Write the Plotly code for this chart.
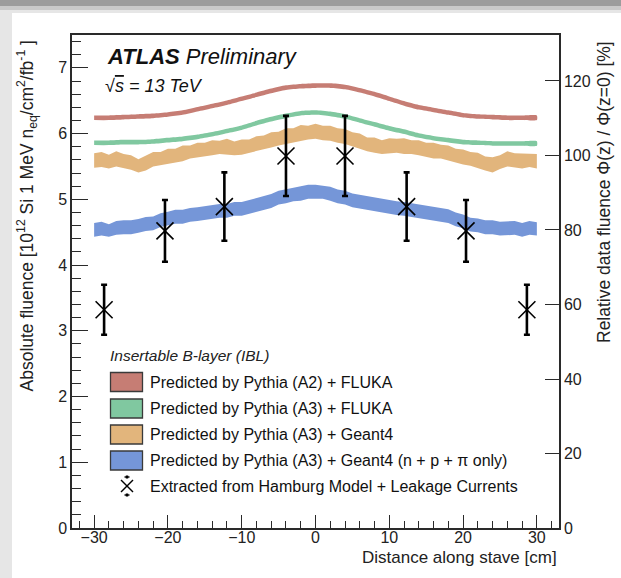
import plotly.graph_objects as go

# ---------------- data ----------------
z_smooth = list(range(-30, 31, 2))
red_a2_fluka = [6.24, 6.24, 6.25, 6.26, 6.27, 6.29, 6.32, 6.37, 6.42, 6.47, 6.53,
                6.59, 6.65, 6.70, 6.72, 6.73, 6.73, 6.71, 6.66, 6.60, 6.53, 6.46,
                6.40, 6.36, 6.32, 6.28, 6.26, 6.25, 6.24, 6.24, 6.24]
green_a3_fluka = [5.86, 5.86, 5.87, 5.87, 5.88, 5.90, 5.92, 5.95, 5.99, 6.04, 6.09,
                  6.16, 6.22, 6.27, 6.31, 6.32, 6.30, 6.26, 6.20, 6.14, 6.08, 6.03,
                  5.97, 5.93, 5.90, 5.87, 5.86, 5.85, 5.85, 5.85, 5.85]
red_halfwidth = 0.035
green_halfwidth = 0.035

z_fine = list(range(-30, 31))
orange_upper = [5.70, 5.72, 5.68, 5.73, 5.69, 5.67, 5.61, 5.66, 5.72, 5.72,
                5.77, 5.77, 5.82, 5.82, 5.86, 5.86, 5.90, 5.89, 5.92, 5.88,
                5.91, 5.91, 5.96, 5.97, 6.02, 6.03, 6.08, 6.08, 6.13, 6.12,
                6.15, 6.12, 6.12, 6.08, 6.07, 6.02, 6.00, 5.94, 5.94, 5.90,
                5.93, 5.92, 5.93, 5.90, 5.90, 5.86, 5.86, 5.83, 5.82, 5.77,
                5.76, 5.72, 5.71, 5.65, 5.64, 5.67, 5.73, 5.70, 5.70, 5.70, 5.69]
orange_lower = [5.48, 5.49, 5.47, 5.50, 5.47, 5.45, 5.41, 5.44, 5.50, 5.52,
                5.53, 5.56, 5.58, 5.62, 5.63, 5.65, 5.67, 5.69, 5.68, 5.67,
                5.68, 5.70, 5.73, 5.76, 5.79, 5.82, 5.85, 5.87, 5.89, 5.91,
                5.92, 5.90, 5.89, 5.86, 5.84, 5.81, 5.77, 5.73, 5.71, 5.69,
                5.70, 5.71, 5.69, 5.69, 5.67, 5.65, 5.62, 5.62, 5.59, 5.56,
                5.53, 5.51, 5.48, 5.44, 5.41, 5.46, 5.50, 5.49, 5.47, 5.49, 5.47]
blue_upper = [4.64, 4.66, 4.62, 4.67, 4.68, 4.68, 4.70, 4.73, 4.74, 4.79,
              4.81, 4.84, 4.84, 4.87, 4.88, 4.90, 4.91, 4.93, 4.93, 4.96,
              4.96, 4.99, 5.01, 5.05, 5.08, 5.13, 5.15, 5.18, 5.19, 5.22,
              5.22, 5.21, 5.19, 5.15, 5.13, 5.09, 5.07, 5.04, 5.03, 5.00,
              4.99, 4.97, 4.96, 4.94, 4.93, 4.90, 4.89, 4.87, 4.85, 4.80,
              4.77, 4.72, 4.71, 4.68, 4.68, 4.66, 4.66, 4.67, 4.64, 4.67, 4.65]
blue_lower = [4.43, 4.45, 4.43, 4.46, 4.47, 4.47, 4.49, 4.52, 4.53, 4.58,
              4.60, 4.63, 4.63, 4.66, 4.67, 4.69, 4.70, 4.72, 4.72, 4.75,
              4.75, 4.78, 4.80, 4.84, 4.87, 4.92, 4.94, 4.97, 4.98, 5.01,
              5.01, 5.01, 4.98, 4.94, 4.92, 4.88, 4.86, 4.83, 4.82, 4.79,
              4.78, 4.76, 4.75, 4.73, 4.72, 4.69, 4.68, 4.66, 4.64, 4.59,
              4.56, 4.51, 4.50, 4.47, 4.47, 4.45, 4.45, 4.46, 4.43, 4.46, 4.45]

z_data = [-28.65, -20.4, -12.35, -4.0, 4.0, 12.35, 20.4, 28.65]
fluence_data = [3.32, 4.52, 4.89, 5.66, 5.66, 4.89, 4.52, 3.32]
fluence_err = [0.38, 0.47, 0.52, 0.61, 0.61, 0.52, 0.47, 0.38]
PHI_Z0 = 5.667  # data fluence at z = 0 (100 %)

legend_labels = [
    "Predicted by Pythia (A2) + FLUKA",
    "Predicted by Pythia (A3) + FLUKA",
    "Predicted by Pythia (A3) + Geant4",
    "Predicted by Pythia (A3) + Geant4 (n + p + \u03c0 only)",
    "Extracted from Hamburg Model + Leakage Currents",
]

# ---------------- style ----------------
W, H = 621, 578
ML, MR, MT, MB = 72, 62, 35, 50
PW, PH = W - ML - MR, H - MT - MB
FONT = "Liberation Sans, Arial, Helvetica, sans-serif"
AX = "#2a2a2a"
C_RED = "#c67d74"
C_GREEN = "#80c8a0"
C_ORANGE = "#e2b57c"
C_BLUE = "#7596d8"


def px_x(px):
    return (px - ML) / PW


def px_y(py):
    return (H - MB - py) / PH


def band(x, up, lo, color, shape="linear"):
    return go.Scatter(x=list(x) + list(x)[::-1], y=list(up) + list(lo)[::-1], fill="toself",
                      fillcolor=color, line=dict(width=0, shape=shape, smoothing=0.6),
                      mode="lines", hoverinfo="skip", showlegend=False)


fig = go.Figure()
fig.add_trace(band(z_smooth, [v + red_halfwidth for v in red_a2_fluka],
                   [v - red_halfwidth for v in red_a2_fluka], C_RED, "spline"))
fig.add_trace(band(z_smooth, [v + green_halfwidth for v in green_a3_fluka],
                   [v - green_halfwidth for v in green_a3_fluka], C_GREEN, "spline"))
fig.add_trace(band(z_fine, orange_upper, orange_lower, C_ORANGE))
fig.add_trace(band(z_fine, blue_upper, blue_lower, C_BLUE))
fig.add_trace(go.Scatter(
    x=z_data, y=fluence_data, mode="markers",
    marker=dict(symbol="x-thin-open", size=17, color="black",
                line=dict(width=1.6, color="black")),
    error_y=dict(type="data", array=fluence_err, thickness=2.6, width=3, color="black"),
    showlegend=False))
# relative scale (right axis): same data in % of the z=0 fluence, drawn invisibly
fig.add_trace(go.Scatter(
    x=z_data, y=[v / PHI_Z0 * 100 for v in fluence_data], yaxis="y2", mode="markers",
    marker=dict(opacity=0), hoverinfo="skip", showlegend=False))

shapes = []
# window-like grey border
shapes.append(dict(type="rect", xref="paper", yref="paper", x0=px_x(0), x1=px_x(W),
                   y0=px_y(0), y1=px_y(6), fillcolor="#9c9c9c", line_width=0, layer="below"))
shapes.append(dict(type="rect", xref="paper", yref="paper", x0=px_x(0), x1=px_x(W),
                   y0=px_y(6), y1=px_y(10), fillcolor="#c9c9c9", line_width=0, layer="below"))
shapes.append(dict(type="rect", xref="paper", yref="paper", x0=px_x(0), x1=px_x(W),
                   y0=px_y(10), y1=px_y(13), fillcolor="#e6e6e6", line_width=0, layer="below"))
shapes.append(dict(type="rect", xref="paper", yref="paper", x0=px_x(0), x1=px_x(12),
                   y0=px_y(13), y1=px_y(H), fillcolor="#e6e6e6", line_width=0, layer="below"))

# legend boxes
box_colors = [C_RED, C_GREEN, C_ORANGE, C_BLUE]
row_y = [382, 408.5, 434.5, 460.5, 486]
for cy, col in zip(row_y[:4], box_colors):
    shapes.append(dict(type="rect", xref="paper", yref="paper",
                       x0=px_x(110.5), x1=px_x(142.5), y0=px_y(cy + 9.5), y1=px_y(cy - 9.5),
                       fillcolor=col, line=dict(color="#3a3a3a", width=1.3)))
# legend data glyph
gx, gy = 127, 486
shapes.append(dict(type="line", xref="paper", yref="paper", x0=px_x(gx - 6), x1=px_x(gx + 6),
                   y0=px_y(gy - 6), y1=px_y(gy + 6), line=dict(color="black", width=1.4)))
shapes.append(dict(type="line", xref="paper", yref="paper", x0=px_x(gx - 6), x1=px_x(gx + 6),
                   y0=px_y(gy + 6), y1=px_y(gy - 6), line=dict(color="black", width=1.4)))
for dy in (-9, 9):
    shapes.append(dict(type="line", xref="paper", yref="paper", x0=px_x(gx), x1=px_x(gx),
                       y0=px_y(gy + dy - 1.5), y1=px_y(gy + dy + 1.5), line=dict(color="black", width=2.4)))
    shapes.append(dict(type="line", xref="paper", yref="paper", x0=px_x(gx - 2.5), x1=px_x(gx + 2.5),
                       y0=px_y(gy + dy), y1=px_y(gy + dy), line=dict(color="black", width=1.4)))

ann = []
ann.append(dict(text="<b><i>ATLAS</i></b> <i>Preliminary</i>", x=px_x(105), y=px_y(57),
                xref="paper", yref="paper", xanchor="left", yanchor="middle", showarrow=False,
                font=dict(size=22, color="#111", family=FONT)))
ann.append(dict(text="<i>\u221a<span style='text-decoration:overline'>s</span> = 13 TeV</i>",
                x=px_x(103), y=px_y(86), xref="paper", yref="paper", xanchor="left",
                yanchor="middle", showarrow=False, font=dict(size=18, color="#111", family=FONT)))
ann.append(dict(text="<i>Insertable B-layer (IBL)</i>", x=px_x(108), y=px_y(355),
                xref="paper", yref="paper", xanchor="left", yanchor="middle", showarrow=False,
                font=dict(size=15.5, color="#222", family=FONT)))
for cy, lab in zip(row_y, legend_labels):
    ann.append(dict(text=lab, x=px_x(148), y=px_y(cy), xref="paper", yref="paper",
                    xanchor="left", yanchor="middle", showarrow=False,
                    font=dict(size=16, color="#111", family=FONT)))
ann.append(dict(text="Distance along stave [cm]", x=px_x(559), y=px_y(557), xref="paper",
                yref="paper", xanchor="right", yanchor="middle", showarrow=False,
                font=dict(size=17, color="#222", family=FONT)))
ann.append(dict(text="Absolute fluence [10<sup>12</sup> Si 1 MeV n<sub>eq</sub>/cm<sup>2</sup>/fb<sup>-1</sup> ]",
                x=px_x(27), y=px_y(39), xref="paper", yref="paper", xanchor="center",
                yanchor="top", textangle=-90, showarrow=False,
                font=dict(size=17.5, color="#222", family=FONT)))
ann.append(dict(text="Relative data fluence \u03a6(z) / \u03a6(z=0) [%]",
                x=px_x(604), y=px_y(39), xref="paper", yref="paper", xanchor="center",
                yanchor="top", textangle=-90, showarrow=False,
                font=dict(size=17.5, color="#222", family=FONT)))

tickfont = dict(size=16, color="#222", family=FONT)
fig.update_layout(
    width=W, height=H, margin=dict(l=ML, r=MR, t=MT, b=MB, pad=0),
    paper_bgcolor="white", plot_bgcolor="white", showlegend=False,
    font=dict(family=FONT),
    xaxis=dict(range=[-33, 33], tick0=0, dtick=10, ticks="inside", ticklen=13, tickwidth=1.3,
               tickcolor=AX, showline=True, linecolor=AX, linewidth=1.5, mirror=True,
               showgrid=False, zeroline=False, tickfont=tickfont, ticklabelstandoff=-6,
               minor=dict(dtick=2, tick0=0, ticks="inside", ticklen=7, tickwidth=1.3, tickcolor=AX)),
    yaxis=dict(range=[0, 7.5], tick0=0, dtick=1, ticks="inside", ticklen=16, tickwidth=1.3,
               tickcolor=AX, showline=True, linecolor=AX, linewidth=1.5, showgrid=False,
               zeroline=False, tickfont=tickfont,
               minor=dict(dtick=0.2, tick0=0, ticks="inside", ticklen=9, tickwidth=1.3, tickcolor=AX)),
    yaxis2=dict(range=[0, 7.5 / PHI_Z0 * 100], overlaying="y", side="right", tick0=0, dtick=20,
                ticks="inside", ticklen=14, tickwidth=1.3, tickcolor=AX, showline=True,
                linecolor=AX, linewidth=1.5, showgrid=False, zeroline=False, tickfont=tickfont),
    shapes=shapes, annotations=ann,
)
fig.write_html("out.html", config={"displayModeBar": False},
               post_script="document.body.style.margin='0px';document.body.style.overflow='hidden';")
